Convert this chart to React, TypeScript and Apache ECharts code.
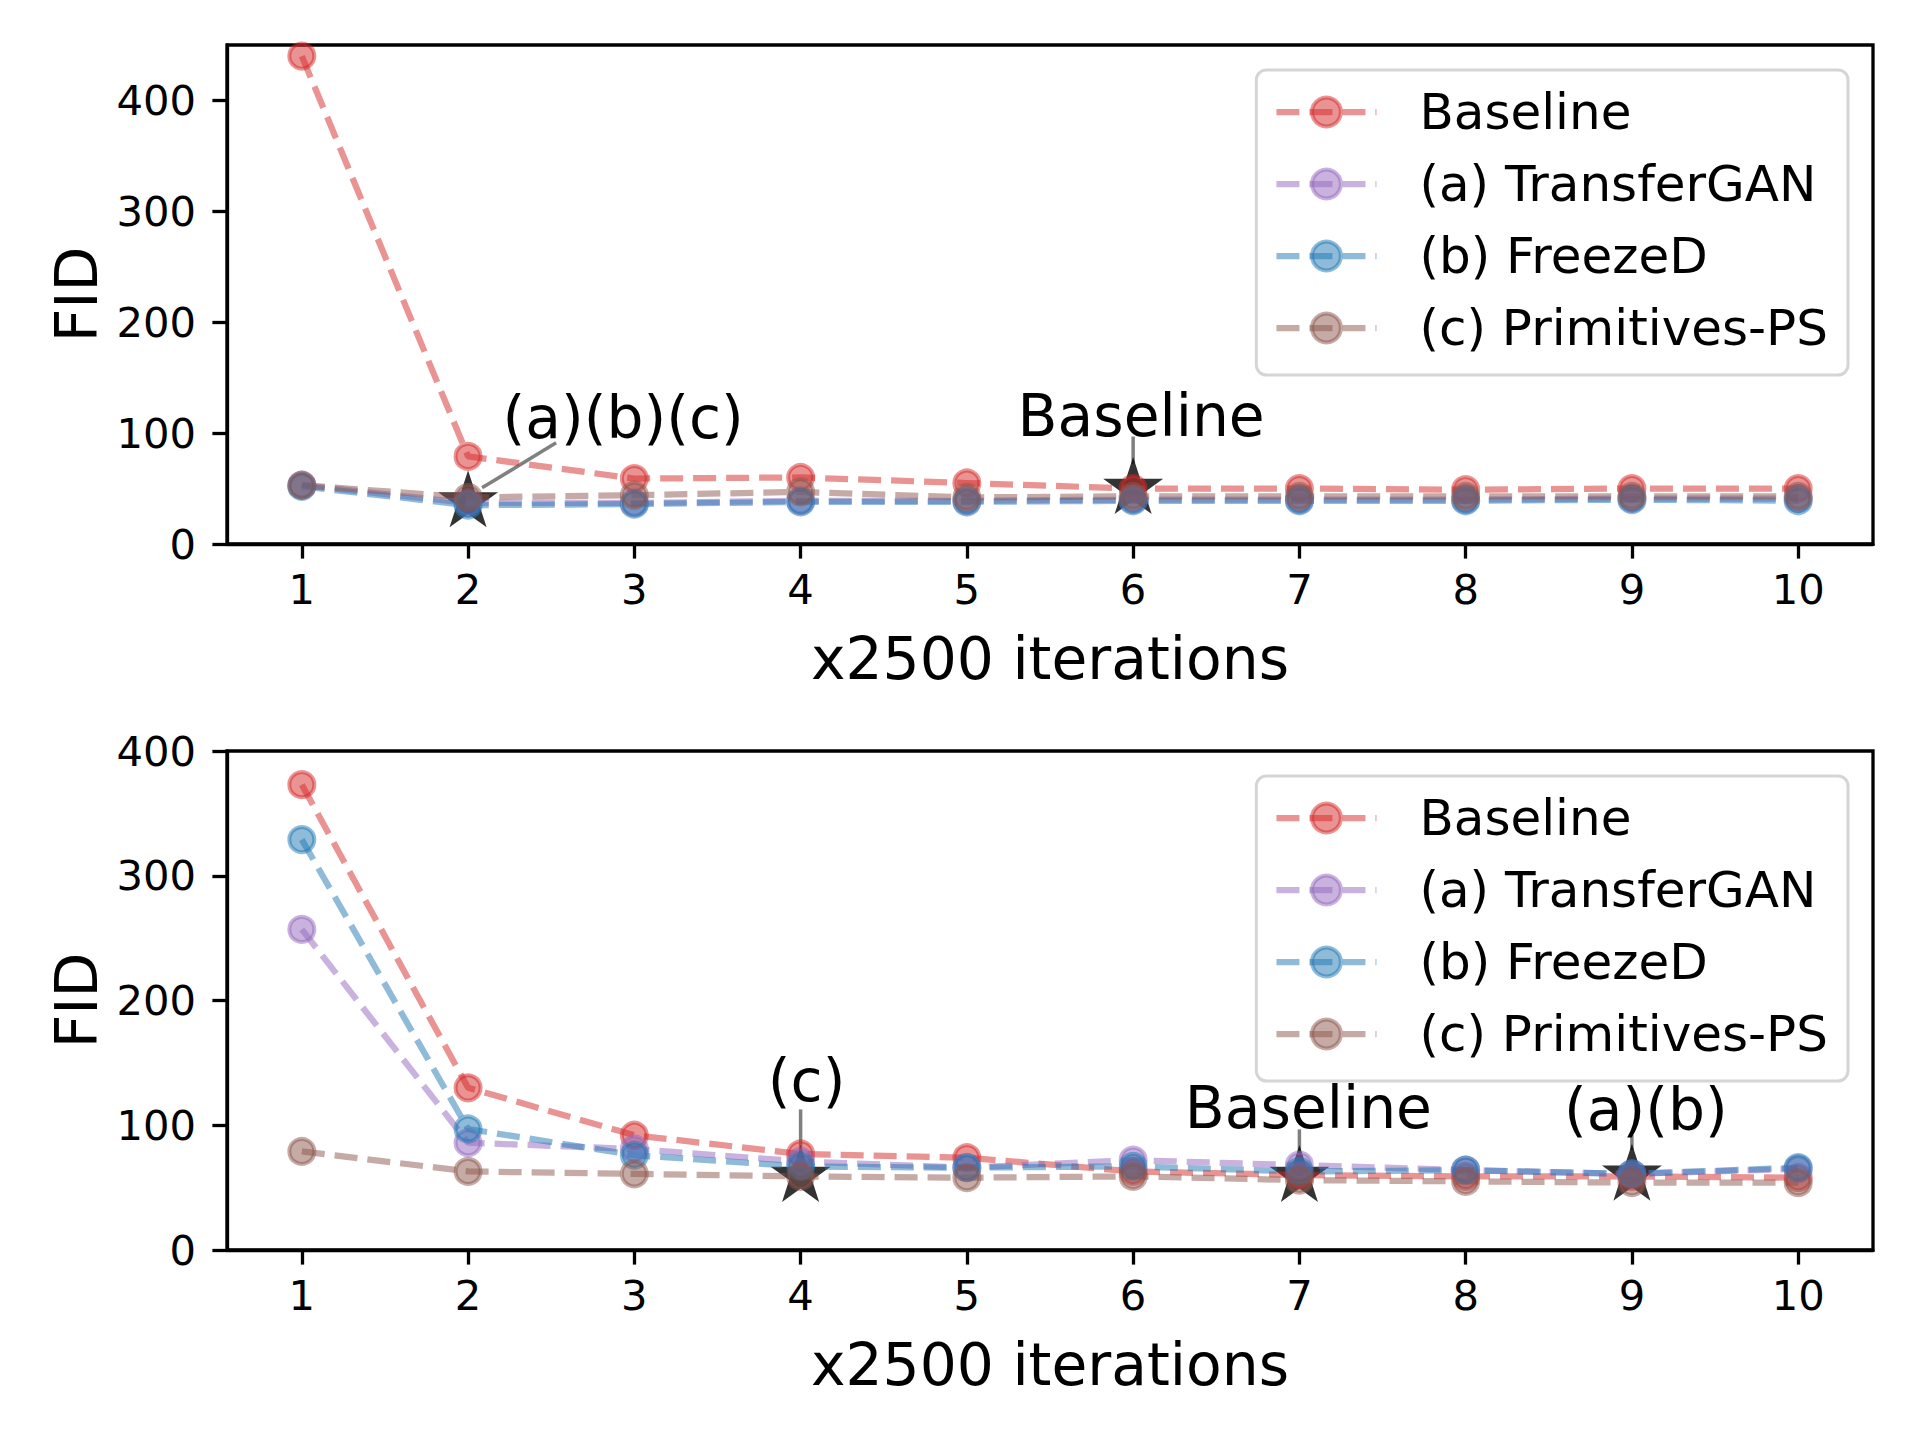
import React, { useEffect, useRef } from "react";
import * as echarts from "echarts";

// ---------- data ----------
const xValues = [1, 2, 3, 4, 5, 6, 7, 8, 9, 10];
const seriesNames = ["Baseline", "(a) TransferGAN", "(b) FreezeD", "(c) Primitives-PS"];

// top panel
const topBaseline = [440, 79, 59, 60, 55, 50, 50, 49, 50, 50];
const topTransferGAN = [53, 37, 37, 39, 39, 40, 40, 40, 41, 41];
const topFreezeD = [52, 35, 36, 38, 38, 39, 39, 39, 40, 39];
const topPrimitivesPS = [53, 42, 44, 47, 42, 43, 43, 43, 43, 43];
const topStarX = [2, 6];
const topStarY = [38, 50];
const topStarLabels = ["(a)(b)(c)", "Baseline"];

// bottom panel
const bottomBaseline = [373, 130, 92, 77, 74, 63, 60, 59, 59, 58];
const bottomTransferGAN = [257, 86, 81, 71, 66, 72, 68, 64, 61, 65];
const bottomFreezeD = [329, 97, 76, 67, 66, 67, 63, 64, 61, 66];
const bottomPrimitivesPS = [79, 63, 61, 59, 58, 59, 56, 55, 54, 54];
const bottomStarX = [4, 7, 9];
const bottomStarY = [59, 59, 60];
const bottomStarLabels = ["(c)", "Baseline", "(a)(b)"];

const xTicks = [1, 2, 3, 4, 5, 6, 7, 8, 9, 10];
const yTicks = [0, 100, 200, 300, 400];
const xAxisTitle = "x2500 iterations";
const yAxisTitle = "FID";

// ---------- styles ----------
const FONT = "DejaVu Sans";
const COLORS = [
  [214, 39, 40],
  [148, 103, 189],
  [31, 119, 180],
  [140, 86, 75],
];
const rgba = (c: number[], a: number) => `rgba(${c[0]},${c[1]},${c[2]},${a})`;
const LINE_W = 6.25;
const DASH = [23, 10];

// annotation offsets (pixels relative to star)
const topAnnOffsets = [
  { dx: 155, dy: -84, line: [[88, -59], [14, -14]] },
  { dx: 8, dy: -73, line: [[0, -52], [0, -25]] },
];
const bottomAnnOffsets = [
  { dx: 6, dy: -95, line: [[0, -67], [0, -25]] },
  { dx: 9, dy: -68, line: [[0, -47], [0, -25]] },
  { dx: 14, dy: -65, line: [[0, -40], [0, -25]] },
];

function starPath() {
  const pts: string[] = [];
  for (let i = 0; i < 10; i++) {
    const r = i % 2 === 0 ? 1 : 0.381966;
    const a = Math.PI / 2 + (i * Math.PI) / 5;
    pts.push(`${(r * Math.cos(a)).toFixed(4)} ${(-r * Math.sin(a)).toFixed(4)}`);
  }
  return "path://M" + pts.join(" L") + " Z";
}

export default function App() {
  const ref = useRef<HTMLDivElement>(null);

  useEffect(() => {
    document.body.style.margin = "0";
    if (!ref.current) return;
    const chart = echarts.init(ref.current, undefined, { renderer: "svg" });

    const grids = [
      { left: 227, top: 45, width: 1646, height: 499 },
      { left: 227, top: 751, width: 1646, height: 499 },
    ];
    const yMax = [450, 400];

    const xAxes = grids.map((_, i) => ({
      type: "value",
      gridIndex: i,
      min: 0.55,
      max: 10.45,
      name: xAxisTitle,
      nameLocation: "middle",
      nameGap: 86,
      nameTextStyle: { fontSize: 58.3, fontFamily: FONT, color: "#000", lineHeight: 58 },
      axisLine: { show: true, onZero: false, lineStyle: { color: "#000", width: 3.3 } },
      axisTick: { show: true, length: 14.6, customValues: xTicks, lineStyle: { color: "#000", width: 3.3 } },
      axisLabel: { show: true, customValues: xTicks, margin: 24, fontSize: 41.7, fontFamily: FONT, color: "#000", lineHeight: 42 },
      splitLine: { show: false },
    }));
    const yAxes = grids.map((_, i) => ({
      type: "value",
      gridIndex: i,
      min: 0,
      max: yMax[i],
      name: yAxisTitle,
      nameLocation: "middle",
      nameGap: 120,
      nameTextStyle: { fontSize: 58.3, fontFamily: FONT, color: "#000", lineHeight: 58 },
      axisLine: { show: true, onZero: false, lineStyle: { color: "#000", width: 3.3 } },
      axisTick: { show: true, length: 14.6, customValues: yTicks, lineStyle: { color: "#000", width: 3.3 } },
      axisLabel: { show: true, customValues: yTicks, margin: 31, fontSize: 41.7, fontFamily: FONT, color: "#000", lineHeight: 42 },
      splitLine: { show: false },
    }));

    const panels = [
      [topBaseline, topTransferGAN, topFreezeD, topPrimitivesPS],
      [bottomBaseline, bottomTransferGAN, bottomFreezeD, bottomPrimitivesPS],
    ];
    const stars = [
      { xs: topStarX, ys: topStarY, labels: topStarLabels, offsets: topAnnOffsets },
      { xs: bottomStarX, ys: bottomStarY, labels: bottomStarLabels, offsets: bottomAnnOffsets },
    ];

    const series: any[] = [];
    panels.forEach((panel, gi) => {
      series.push({
        type: "scatter",
        name: gi === 0 ? "best-top" : "best-bottom",
        xAxisIndex: gi,
        yAxisIndex: gi,
        z: 1,
        symbol: starPath(),
        symbolSize: [60, 57],
        symbolOffset: [0, -3],
        itemStyle: { color: "#000" },
        data: stars[gi].xs.map((x, k) => [x, stars[gi].ys[k]]),
        silent: true,
      });
      panel.forEach((vals, si) => {
        series.push({
          type: "line",
          name: seriesNames[si],
          xAxisIndex: gi,
          yAxisIndex: gi,
          z: 2,
          symbol: "circle",
          symbolSize: 25,
          showAllSymbol: true,
          lineStyle: { color: rgba(COLORS[si], 0.5), width: LINE_W, type: DASH },
          itemStyle: { color: rgba(COLORS[si], 0.5), borderColor: rgba(COLORS[si], 0.5), borderWidth: 4 },
          emphasis: { disabled: true },
          data: xValues.map((x, k) => [x, vals[k]]),
        });
      });
    });

    const legendBase = {
      orient: "vertical",
      right: 72,
      data: seriesNames,
      itemWidth: 100,
      itemHeight: 36,
      itemGap: 22,
      padding: [17, 20, 22, 17],
      backgroundColor: "#fff",
      borderColor: "#d5d5d5",
      borderWidth: 3,
      borderRadius: 10,
      selectedMode: false,
      lineStyle: { width: LINE_W, type: DASH },
      itemStyle: { borderWidth: 4 },
      textStyle: { fontSize: 50, fontFamily: FONT, color: "#000", lineHeight: 48, padding: [0, 0, 0, 38] },
    };

    chart.setOption({
      animation: false,
      backgroundColor: "#fff",
      grid: grids.map((g) => ({ ...g, show: true, borderColor: "#000", borderWidth: 3.3, backgroundColor: "transparent" })),
      xAxis: xAxes,
      yAxis: yAxes,
      legend: [
        { ...legendBase, top: 70 },
        { ...legendBase, top: 776 },
      ],
      series,
    });

    const graphics: any[] = [];
    stars.forEach((s, gi) => {
      s.xs.forEach((x, k) => {
        const p = chart.convertToPixel({ xAxisIndex: gi, yAxisIndex: gi }, [x, s.ys[k]]) as number[];
        const o = s.offsets[k];
        graphics.push({
          type: "line",
          z: 0,
          silent: true,
          shape: { x1: p[0] + o.line[0][0], y1: p[1] + o.line[0][1], x2: p[0] + o.line[1][0], y2: p[1] + o.line[1][1] },
          style: { stroke: "#808080", lineWidth: 3.5 },
        });
        graphics.push({
          type: "text",
          z: 100,
          silent: true,
          x: p[0] + o.dx,
          y: p[1] + o.dy,
          style: { text: s.labels[k], fontSize: 58.3, fontFamily: FONT, fill: "#000", align: "center", verticalAlign: "middle" },
        });
      });
    });
    chart.setOption({ graphic: graphics });

    return () => chart.dispose();
  }, []);

  return <div ref={ref} style={{ width: 1920, height: 1440 }} />;
}
